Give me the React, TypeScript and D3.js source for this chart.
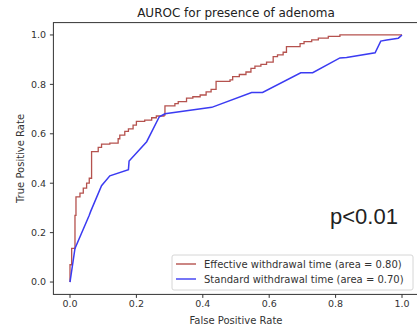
import React from "react";
import * as d3 from "d3";

const title = "AUROC for presence of adenoma";
const xLabel = "False Positive Rate";
const yLabel = "True Positive Rate";
const tickValues = [0, 0.2, 0.4, 0.6, 0.8, 1.0];
const seriesNames = [
  "Effective withdrawal time (area = 0.80)",
  "Standard withdrawal time (area = 0.70)",
];
const annotation = "p<0.01";

// ROC corner points of the step curve (effective withdrawal time)
const effectiveFpr = [
  0, 0, 0.005, 0.015, 0.018, 0.03, 0.04, 0.05, 0.058, 0.065, 0.085, 0.095, 0.12, 0.145, 0.15,
  0.165, 0.176, 0.19, 0.2, 0.225, 0.246, 0.26, 0.283, 0.286, 0.316, 0.326, 0.351, 0.37, 0.392,
  0.41, 0.425, 0.44, 0.482, 0.49, 0.51, 0.53, 0.545, 0.557, 0.575, 0.592, 0.612, 0.625, 0.642,
  0.652, 0.693, 0.705, 0.728, 0.748, 0.778, 0.813, 1.0,
];
const effectiveTpr = [
  0, 0.07, 0.136, 0.27, 0.345, 0.36, 0.38, 0.4, 0.42, 0.528, 0.545, 0.558, 0.562, 0.58, 0.595,
  0.61, 0.62, 0.635, 0.65, 0.655, 0.665, 0.672, 0.676, 0.713, 0.722, 0.73, 0.744, 0.75, 0.757,
  0.77, 0.78, 0.812, 0.818, 0.831, 0.84, 0.85, 0.865, 0.874, 0.881, 0.89, 0.912, 0.919, 0.93,
  0.953, 0.965, 0.973, 0.98, 0.987, 0.994, 1.0, 1.0,
];

const standardFpr = [
  0, 0.015, 0.058, 0.062, 0.095, 0.12, 0.176, 0.178, 0.231, 0.269, 0.286, 0.427, 0.547, 0.58,
  0.695, 0.731, 0.813, 0.833, 0.919, 0.936, 0.954, 0.989, 1.0,
];
const standardTpr = [
  0, 0.136, 0.27, 0.285, 0.39, 0.43, 0.455, 0.49, 0.568, 0.669, 0.681, 0.707, 0.767, 0.767,
  0.847, 0.847, 0.907, 0.909, 0.928, 0.975, 0.98, 0.987, 1.0,
];

const W = 417;
const H = 327;
const RED = "#b5524e";
const BLUE = "#3b3bf2";
const AX = "#333";
const FONT = "DejaVu Sans, sans-serif";

export default function App() {
  const x = d3.scaleLinear().domain([-0.05, 1.05]).range([53.4, 418.6]);
  const y = d3.scaleLinear().domain([-0.05, 1.05]).range([294.4, 22.6]);
  const stepLine = d3
    .line<[number, number]>()
    .x((d) => x(d[0]))
    .y((d) => y(d[1]))
    .curve(d3.curveStepAfter);
  const line = d3
    .line<[number, number]>()
    .x((d) => x(d[0]))
    .y((d) => y(d[1]));
  const eff = effectiveFpr.map((v, i) => [v, effectiveTpr[i]] as [number, number]);
  const std = standardFpr.map((v, i) => [v, standardTpr[i]] as [number, number]);
  const fmt = d3.format(".1f");
  const [x0, x1] = x.range();
  const [y0, y1] = y.range();

  return (
    <svg
      width={W}
      height={H}
      style={{ position: "absolute", left: 0, top: 0, background: "#fff" }}
      fontFamily={FONT}
    >
      <rect x={0} y={0} width={W} height={H} fill="#fff" />
      <text x={(x0 + x1) / 2} y={17} textAnchor="middle" fontSize={12} fill="#222">
        {title}
      </text>
      <path d={stepLine(eff) || ""} fill="none" stroke={RED} strokeWidth={1.3} />
      <path d={line(std) || ""} fill="none" stroke={BLUE} strokeWidth={1.5} />
      <rect
        x={x0}
        y={y1}
        width={x1 - x0}
        height={y0 - y1}
        fill="none"
        stroke={AX}
        strokeWidth={1}
      />
      {tickValues.map((t) => (
        <g key={"x" + t}>
          <line x1={x(t)} x2={x(t)} y1={y0} y2={y0 + 3.5} stroke={AX} />
          <text x={x(t)} y={307} textAnchor="middle" fontSize={9.5} fill="#333">
            {fmt(t)}
          </text>
        </g>
      ))}
      {tickValues.map((t) => (
        <g key={"y" + t}>
          <line x1={x0 - 3.5} x2={x0} y1={y(t)} y2={y(t)} stroke={AX} />
          <text x={46} y={y(t) + 3.4} textAnchor="end" fontSize={9.5} fill="#333">
            {fmt(t)}
          </text>
        </g>
      ))}
      <text x={(x0 + x1) / 2} y={324} textAnchor="middle" fontSize={10} fill="#333">
        {xLabel}
      </text>
      <text
        transform={`translate(23.5, ${(y0 + y1) / 2}) rotate(-90)`}
        textAnchor="middle"
        fontSize={10}
        fill="#333"
      >
        {yLabel}
      </text>
      <text x={330} y={224} fontFamily="Liberation Sans, Arial, sans-serif" fontSize={22} fill="#222">
        {annotation}
      </text>
      <g>
        <rect
          x={172}
          y={255}
          width={241}
          height={35}
          rx={2}
          fill="#fff"
          fillOpacity={0.8}
          stroke="#d6d6d6"
          strokeWidth={1}
        />
        {seriesNames.map((name, i) => (
          <g key={name}>
            <line
              x1={176}
              x2={196}
              y1={264 + i * 15}
              y2={264 + i * 15}
              stroke={i === 0 ? RED : BLUE}
              strokeWidth={1.4}
            />
            <text x={204} y={267.6 + i * 15} fontSize={10} fill="#333">
              {name}
            </text>
          </g>
        ))}
      </g>
    </svg>
  );
}
